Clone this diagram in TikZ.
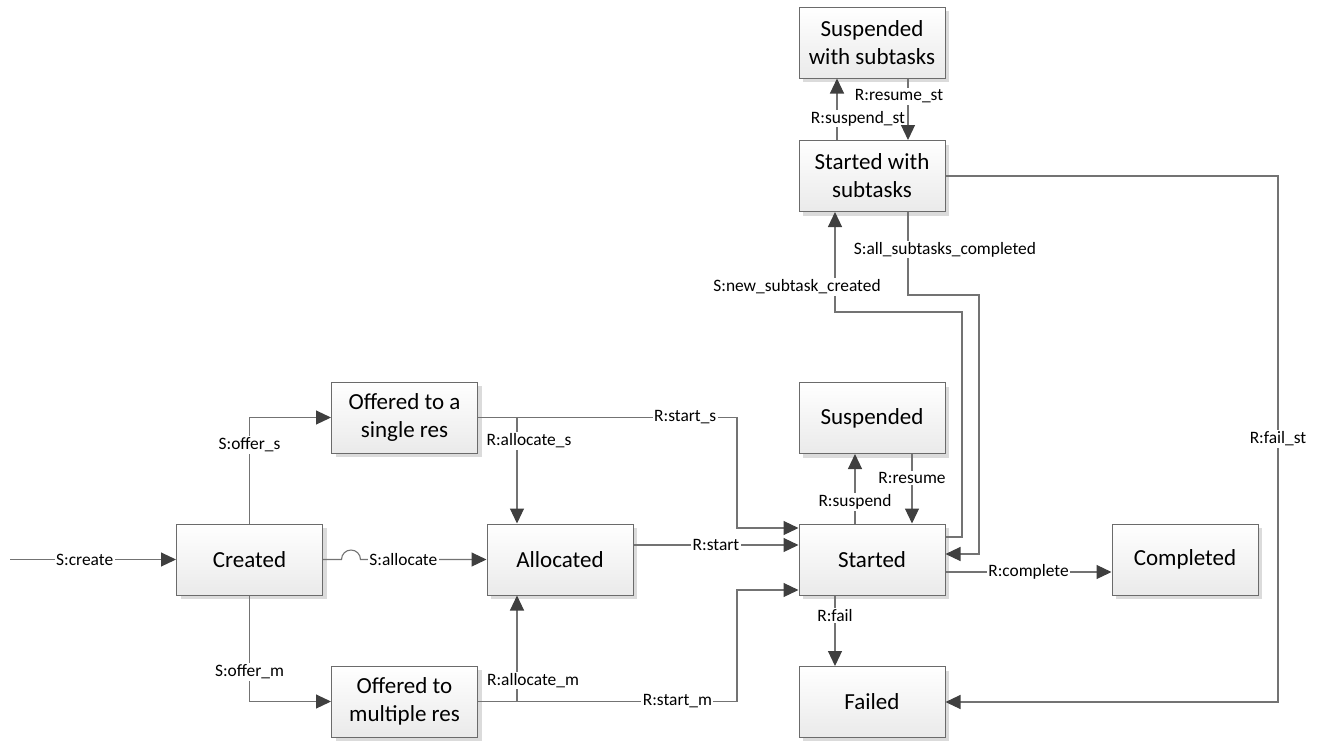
\documentclass[tikz,border=0pt]{standalone}
\usepackage{fontspec}
\setmainfont{Carlito}
\usetikzlibrary{arrows.meta,shadows}
\definecolor{linegray}{HTML}{737373}
\definecolor{tipgray}{HTML}{3F3F3F}
\definecolor{boxline}{HTML}{6B6B6B}
\definecolor{boxbot}{HTML}{EAEAEA}
\begin{document}
\begin{tikzpicture}[x=1pt,y=-1pt,
  stbox/.style={draw=boxline, line width=1pt, top color=white, bottom color=boxbot,
    minimum width=146pt, minimum height=71pt, align=center, inner sep=2pt,
    font=\fontsize{23}{28}\selectfont,
    drop shadow={shadow xshift=4pt, shadow yshift=-4pt, fill=black!14, opacity=1}},
  conn/.style={draw=linegray, line width=1.1pt, -{Triangle[length=15pt,width=14pt,color=tipgray]}},
  lbl/.style={fill=white, inner sep=1.5pt, font=\fontsize{17.4}{20}\selectfont}]
  \useasboundingbox (0,0) rectangle (1325,740);

  \node[stbox] (created) at (249.5,559.5) {Created};
  \node[stbox] (offS) at (404.5,417.5) {Offered to a\\single res};
  \node[stbox] (offM) at (404.5,701.5) {Offered to\\multiple res};
  \node[stbox] (alloc) at (560,559.5) {Allocated};
  \node[stbox] (started) at (872,559.5) {Started};
  \node[stbox] (susp) at (872,418) {Suspended};
  \node[stbox] (stST) at (872,176) {Started with\\subtasks};
  \node[stbox] (suspST) at (872,42.5) {Suspended\\with subtasks};
  \node[stbox] (compl) at (1185,559.5) {Completed};
  \node[stbox] (failed) at (872,702) {Failed};
  \coordinate (init) at (10,559.5);

  \draw[conn] (init) -- node[lbl,pos=0.45]{S:create} (created.west);
  \draw[conn] (created.north) |- node[lbl,pos=0.37]{S:offer\_s} (offS.west);
  \draw[conn] (created.south) |- node[lbl,pos=0.36]{S:offer\_m} (offM.west);
  \draw[conn] (created.east) -- ++(18.5,0) arc[start angle=180,end angle=0,radius=9.5pt]
    -- node[lbl,pos=0.34]{S:allocate} (alloc.west);
  \draw[conn] (offS.east) -| node[lbl,pos=0.61,xshift=12pt]{R:allocate\_s} ([xshift=-43pt]alloc.north);
  \draw[conn] (offM.east) -| node[lbl,pos=0.6,xshift=16pt]{R:allocate\_m} ([xshift=-43pt]alloc.south);
  \draw[conn] (offS.east) -| node[lbl,pos=0.4]{R:start\_s} (737,528) -- ([yshift=31.5pt]started.west);
  \draw[conn] (offM.east) -| node[lbl,pos=0.385]{R:start\_m} (737,590) -- ([yshift=-30.5pt]started.west);
  \draw[conn] ([yshift=14.5pt]alloc.east) -- node[lbl]{R:start} ([yshift=14.5pt]started.west);
  \draw[conn] ([xshift=-17pt]started.north) -- node[lbl,pos=0.31]{R:suspend} ([xshift=-17pt]susp.south);
  \draw[conn] ([xshift=40pt]susp.south) -- node[lbl,pos=0.35]{R:resume} ([xshift=40pt]started.north);
  \draw[conn] ([yshift=-12.5pt]started.east) -- node[lbl]{R:complete} ([yshift=-12.5pt]compl.west);
  \draw[conn] ([xshift=-37pt]started.south) -- node[lbl,pos=0.28]{R:fail} ([xshift=-37pt]failed.north);
  \draw[conn] ([yshift=22.5pt]started.east) -| (962,312)
    -| node[lbl,pos=0.625,xshift=-38pt]{S:new\_subtask\_created} ([xshift=-37pt]stST.south);
  \draw[conn] ([xshift=36pt]stST.south) |- node[lbl,pos=0.226,xshift=37pt]{S:all\_subtasks\_completed} (979,295)
    |- ([yshift=5.5pt]started.east);
  \draw[conn] ([xshift=-35pt]stST.north) -- node[lbl,pos=0.35,xshift=21pt]{R:suspend\_st} ([xshift=-35pt]suspST.south);
  \draw[conn] ([xshift=36pt]suspST.south) -- node[lbl,pos=0.29,xshift=-9pt]{R:resume\_st} ([xshift=36pt]stST.north);
  \draw[conn] (stST.east) -| node[lbl,pos=0.75]{R:fail\_st} (1278,702) -- (failed.east);
\end{tikzpicture}
\end{document}
